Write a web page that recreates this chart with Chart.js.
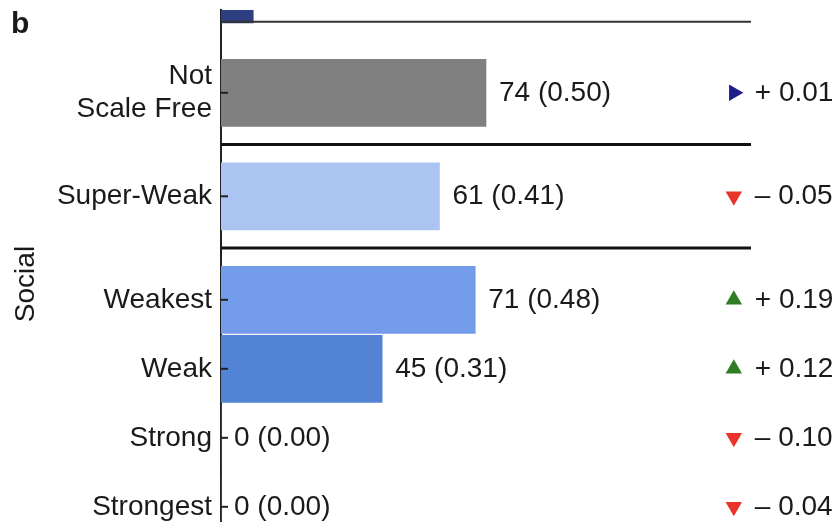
<!DOCTYPE html>
<html>
<head>
<meta charset="utf-8">
<script src="https://cdn.jsdelivr.net/npm/chart.js@4"></script>
<style>
  body { margin: 0; background: #fff; }
  #wrap { width: 836px; height: 522px; position: relative; }
</style>
</head>
<body>
<div id="wrap"><canvas id="chart"></canvas></div>
<script>
// Row data (rows sit on a numeric y axis so groups can have gaps)
const categories = [['Not', 'Scale Free'], 'Super-Weak', 'Weakest', 'Weak', 'Strong', 'Strongest'];
const rowPositions = [1.5, 3, 4.5, 5.5, 6.5, 7.5];
const counts = [74, 61, 71, 45, 0, 0];
const shares = [0.50, 0.41, 0.48, 0.31, 0.00, 0.00];
const changes = [0.01, -0.05, 0.19, 0.12, -0.10, -0.04];
const trend = ['flat', 'down', 'up', 'up', 'down', 'down'];
const groupBreaks = [0.47, 2.25, 3.75];
const total = 148;

// bar of the panel above, cut off at the top
const prevPosition = 0;
const prevCount = 9;

const barColors = ['#808080', '#abc4f1', '#739cea', '#5383d4', '#5383d4', '#5383d4'];
const prevColor = '#2d3f80';
const trendColors = { up: '#2f7d22', down: '#e8342a', flat: '#1c1c8a' };
const trendRotation = { up: 0, down: 180, flat: 90 };
const markerColumn = 143.2;

const FONT = '"Liberation Sans", Arial, Helvetica, sans-serif';
const TEXT = '#1a1a1a';
const SIZE = 28;
Chart.defaults.font.family = FONT;
Chart.defaults.font.size = SIZE;
Chart.defaults.color = TEXT;

const fmtChange = v => (v >= 0 ? '+ ' : '\u2013 ') + Math.abs(v).toFixed(2);

const decorations = {
  id: 'decorations',
  afterDatasetsDraw(chart) {
    const { ctx, chartArea, scales: { x, y } } = chart;
    ctx.save();

    // group separators
    groupBreaks.forEach((b, i) => {
      const py = y.getPixelForValue(b);
      ctx.strokeStyle = i === 0 ? '#333' : '#111';
      ctx.lineWidth = i === 0 ? 2 : 3;
      ctx.beginPath();
      ctx.moveTo(chartArea.left, py);
      ctx.lineTo(chartArea.right, py);
      ctx.stroke();
    });

    // inward tick marks
    ctx.strokeStyle = '#222';
    ctx.lineWidth = 2;
    rowPositions.forEach(p => {
      const py = y.getPixelForValue(p);
      ctx.beginPath();
      ctx.moveTo(chartArea.left, py);
      ctx.lineTo(chartArea.left + 7, py);
      ctx.stroke();
    });

    ctx.fillStyle = TEXT;
    ctx.font = SIZE + 'px ' + FONT;
    ctx.textBaseline = 'middle';
    ctx.textAlign = 'left';

    // value labels
    counts.forEach((c, i) => {
      const px = x.getPixelForValue(c) + 13;
      const py = y.getPixelForValue(rowPositions[i]);
      ctx.fillText(c + ' (' + shares[i].toFixed(2) + ')', px, py);
    });

    // change labels next to markers
    changes.forEach((c, i) => {
      const px = x.getPixelForValue(markerColumn) + 21;
      const py = y.getPixelForValue(rowPositions[i]);
      ctx.fillText(fmtChange(c), px, py);
    });

    // panel letter and axis title
    ctx.font = 'bold 30px ' + FONT;
    ctx.textBaseline = 'alphabetic';
    ctx.fillText('b', 11, 33);

    ctx.font = SIZE + 'px ' + FONT;
    ctx.textAlign = 'center';
    ctx.textBaseline = 'middle';
    ctx.translate(26, 284);
    ctx.rotate(-Math.PI / 2);
    ctx.fillText('Social', 0, 0);
    ctx.restore();
  }
};

new Chart(document.getElementById('chart'), {
  data: {
    datasets: [
      {
        type: 'bar',
        indexAxis: 'y',
        data: [{ x: prevCount, y: prevPosition }].concat(
          counts.map((c, i) => ({ x: c, y: rowPositions[i] }))
        ),
        backgroundColor: [prevColor].concat(barColors),
        barThickness: 67,
        borderWidth: 0
      },
      {
        type: 'scatter',
        data: rowPositions.map(p => ({ x: markerColumn, y: p })),
        pointStyle: 'triangle',
        pointRadius: 9.5,
        rotation: trend.map(t => trendRotation[t]),
        backgroundColor: trend.map(t => trendColors[t]),
        borderWidth: 0
      }
    ]
  },
  options: {
    responsive: true,
    maintainAspectRatio: false,
    animation: false,
    layout: { autoPadding: false, padding: { top: 10, right: 85, left: 0, bottom: 0 } },
    plugins: { legend: { display: false }, tooltip: { enabled: false } },
    scales: {
      x: {
        type: 'linear',
        min: 0,
        max: total,
        offset: false,
        display: false
      },
      y: {
        type: 'linear',
        reverse: true,
        min: 0.3,
        max: 7.72,
        offset: false,
        afterFit(scale) {
          scale.width = 221;
          scale.paddingTop = 0;
          scale.paddingBottom = 0;
        },
        afterBuildTicks(scale) {
          scale.ticks = rowPositions.map(v => ({ value: v }));
        },
        grid: { display: false, drawTicks: false, offset: false },
        border: { display: true, color: '#222', width: 2 },
        ticks: {
          padding: 9,
          color: TEXT,
          font: { size: SIZE },
          callback: (v, i) => categories[i]
        }
      }
    }
  },
  plugins: [decorations]
});
</script>
</body>
</html>
